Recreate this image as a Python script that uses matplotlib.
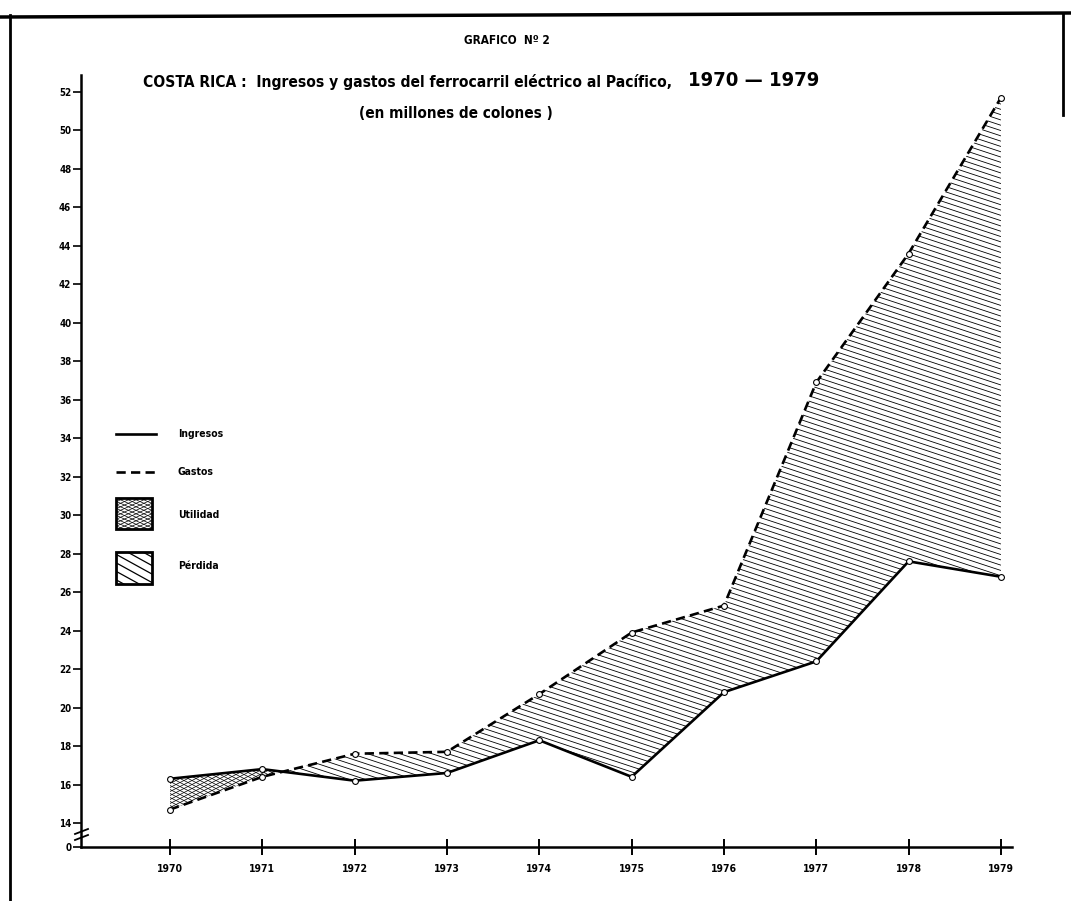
import numpy as np
import matplotlib
matplotlib.use("Agg")
import matplotlib.pyplot as plt
from matplotlib.collections import LineCollection
from matplotlib.patches import PathPatch, Polygon
from matplotlib.lines import Line2D

# Datos (millones de colones)
anios = np.array([1970, 1971, 1972, 1973, 1974, 1975, 1976, 1977, 1978, 1979])
ingresos = np.array([16.3, 16.8, 16.2, 16.6, 18.3, 16.4, 20.8, 22.4, 27.6, 26.8])
gastos = np.array([14.7, 16.4, 17.6, 17.7, 20.7, 23.9, 25.3, 36.9, 43.6, 51.7])

ticks_y = list(range(14, 53, 2))
etiquetas_leyenda = ['Ingresos', 'Gastos', 'Utilidad', 'Pérdida']

plt.rcParams['font.family'] = ['DejaVu Sans']
plt.rcParams['font.stretch'] = 'condensed'
plt.rcParams['font.weight'] = 'bold'

W, H = 1071, 901
fig = plt.figure(figsize=(W / 100, H / 100), dpi=100)


def px(x, y):
    # pixel de la imagen -> fraccion de figura
    return x / W, 1 - y / H


ax = fig.add_axes([81 / W, 1 - 847 / H, (1012 - 81) / W, (847 - 75) / H])
ax.set_xlim(1969.036, 1979.12)
base = 14 - 24 / 19.24
ax.set_ylim(base, 52.88)

for s in ['top', 'right']:
    ax.spines[s].set_visible(False)
ax.spines['left'].set_linewidth(1.8)
ax.spines['bottom'].set_linewidth(1.8)

ax.set_yticks([base] + ticks_y)
ax.set_yticklabels(['0'] + [str(t) for t in ticks_y], fontsize=7)
ax.set_xticks(anios)
ax.set_xticklabels([str(a) for a in anios], fontsize=7.5)
ax.tick_params(axis='y', direction='out', length=6, width=1.2, pad=1)
ax.tick_params(axis='x', direction='inout', length=12, width=1.4, pad=6)


def rayado(clip, pendiente, paso, lw):
    # lineas paralelas en pixeles, recortadas por clip
    segs = []
    c = -abs(pendiente) * W - paso
    while c < H + abs(pendiente) * W:
        segs.append([px(0, c), px(W, c + pendiente * W)])
        c += paso
    lc = LineCollection(segs, transform=fig.transFigure, colors='k',
                        linewidths=lw, zorder=2)
    ax.add_collection(lc, autolim=False)
    lc.set_clip_path(clip)


# Perdida (gastos > ingresos)
perd = ax.fill_between(anios, ingresos, gastos, where=gastos >= ingresos,
                       interpolate=True, color='none')
clip_p = PathPatch(perd.get_paths()[0], transform=ax.transData,
                   fc='none', ec='none')
ax.add_patch(clip_p)
rayado(clip_p, 0.33, 5.3, 0.6)

# Utilidad (ingresos > gastos)
util = ax.fill_between(anios, ingresos, gastos, where=ingresos >= gastos,
                       interpolate=True, color='none')
clip_u = PathPatch(util.get_paths()[0], transform=ax.transData,
                   fc='none', ec='none')
ax.add_patch(clip_u)
rayado(clip_u, -0.5, 4.0, 0.5)
rayado(clip_u, 0.5, 4.0, 0.5)

ax.plot(anios, ingresos, '-', color='k', lw=1.9, marker='o', ms=4.2,
        mfc='white', mec='k', mew=0.8, zorder=4)
ax.plot(anios, gastos, color='k', lw=1.9, ls=(0, (3.5, 2)), marker='o',
        ms=4.2, mfc='white', mec='k', mew=0.8, zorder=4)


def caja(x0, y0, x1, y1):
    pts = [px(x0, y0), px(x1, y0), px(x1, y1), px(x0, y1)]
    p = Polygon(pts, closed=True, transform=fig.transFigure,
                fc='none', ec='k', lw=2, zorder=3)
    ax.add_patch(p)
    return p


# Leyenda
ax.add_line(Line2D([px(116, 0)[0], px(156, 0)[0]], [px(0, 434)[1]] * 2,
                   transform=fig.transFigure, color='k', lw=1.9))
ax.add_line(Line2D([px(116, 0)[0], px(158, 0)[0]], [px(0, 472)[1]] * 2,
                   transform=fig.transFigure, color='k', lw=1.9,
                   ls=(0, (3.5, 2))))
caja_u = caja(116, 498, 152, 529)
caja_p = caja(116, 552, 152, 584)
rayado(caja_u, -0.45, 3.5, 0.5)
rayado(caja_u, 0.45, 3.5, 0.5)
rayado(caja_p, 0.55, 8.5, 0.9)
for texto, yy in zip(etiquetas_leyenda, [434, 472, 515, 566]):
    fig.text(*px(178, yy), texto, fontsize=7.5, va='center', ha='left')

# Corte del eje
for dy in [0, 6]:
    fig.add_artist(Line2D([px(75, 0)[0], px(88, 0)[0]],
                          [px(0, 834 + dy)[1], px(0, 829 + dy)[1]],
                          color='k', lw=1.3))

# Titulos
fig.text(*px(507, 40), 'GRAFICO  Nº 2', fontsize=8.5, ha='center', va='center')
fig.text(*px(143, 82), 'COSTA RICA :  Ingresos y gastos del ferrocarril eléctrico al Pacífico,',
         fontsize=11.2, ha='left', va='center')
fig.text(*px(688, 81), '1970 — 1979', fontsize=14.5, ha='left', va='center')
fig.text(*px(456, 113), '(en millones de colones )', fontsize=11,
         ha='center', va='center')

# Marco del papel
fig.add_artist(Line2D([0, 1], [px(0, 17)[1], px(0, 13)[1]], color='k', lw=2.5))
fig.add_artist(Line2D([px(10, 0)[0]] * 2, [px(0, 15)[1], 0], color='k', lw=2))
fig.add_artist(Line2D([px(1063, 0)[0]] * 2, [px(0, 13)[1], px(0, 115)[1]],
                      color='k', lw=2))

fig.savefig('out.png', dpi=100)
